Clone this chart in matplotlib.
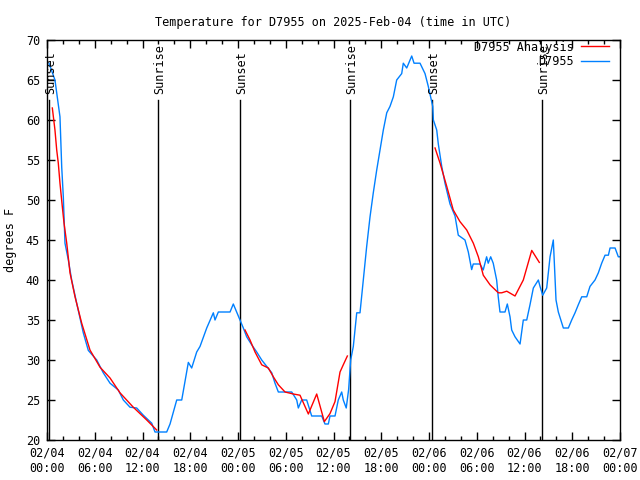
import matplotlib
matplotlib.use("Agg")
import matplotlib.pyplot as plt
import numpy as np

plt.rcParams['font.family'] = ['DejaVu Sans Mono']

# hours since 2025-02-04 00:00 UTC
obs_hours = [0.25, 1.0, 1.63, 1.85, 2.05, 2.26, 2.68, 3.1, 3.73, 4.56, 5.19, 6.25, 7.07, 7.92, 8.96,
             9.59, 10.43, 11.27, 12.1, 13.16, 13.57, 15.04, 15.46, 16.3, 16.93, 17.76, 18.18, 18.81,
             19.23, 20.07, 20.9, 21.11, 21.53, 23.0, 23.41, 24.25, 24.67, 25.09, 25.72, 26.35, 26.98,
             27.61, 28.24, 28.65, 29.07, 30.75, 31.38, 31.58, 32.0, 32.63, 33.26, 34.52, 34.93, 35.35,
             35.56, 36.19, 36.6, 37.03, 37.23, 37.6, 37.9, 38.16, 38.49, 38.92, 39.33, 39.75, 40.17,
             40.59, 41.0, 41.43, 41.85, 42.26, 42.69, 43.1, 43.52, 43.94, 44.57, 44.77, 45.2, 45.61,
             45.83, 46.12, 46.87, 47.5, 47.91, 48.47, 48.55, 48.97, 49.17, 49.6, 50.01, 50.64, 51.27,
             51.68, 52.52, 52.94, 53.36, 53.56, 54.4, 54.81, 55.24, 55.44, 55.75, 56.07, 56.5, 56.7,
             56.92, 57.55, 57.84, 58.18, 58.39, 58.81, 59.44, 59.85, 60.28, 60.69, 61.11, 61.74,
             61.95, 62.29, 62.79, 63.21, 63.62, 63.96, 64.25, 64.88, 65.51, 65.93, 66.35, 66.76,
             67.19, 67.82, 68.23, 68.86, 69.28, 69.7, 70.12, 70.54, 70.75, 71.38, 71.79, 72.0]
obs_temps = [67.1, 65, 60.4, 54.1, 50.4, 44.6, 42.5, 40, 37.1, 33.4, 31.2, 30, 28.4, 27.1, 26.25,
             25, 24.1, 24, 23.1, 22.1, 21, 21, 22, 25, 25, 29.7, 29, 31,
             31.7, 34, 35.9, 35, 36, 36, 37, 35, 34, 32.9, 31.9, 31, 30,
             29.2, 28.4, 27.1, 26, 26, 25, 24, 25, 25, 23, 23, 22, 22,
             23, 23, 25, 26, 25, 24, 26.3, 30, 31.7, 35.9, 35.9, 40, 44.2,
             47.9, 50.9, 53.75, 56.25, 58.75, 60.9, 61.7, 62.9, 65, 65.8, 67.1, 66.5, 67.5,
             68, 67.1, 67.1, 65.8, 64.2, 61.7, 60, 58.75, 57, 54.2, 52.1, 49.5, 48,
             45.6, 45, 43.5, 41.3, 42, 42, 41.25, 42.9, 42.1, 42.9, 42.1, 40, 37.9,
             36, 36, 37, 35.4, 33.75, 32.9, 32, 35, 35, 36.9, 39, 40,
             39.2, 38.1, 39, 42.9, 45, 37.5, 36, 34, 34, 35, 35.9, 36.9,
             37.9, 37.9, 39.2, 40, 40.9, 42.1, 43.1, 43.1, 44, 44, 42.9, 42.9]

ana_hours = [0.67, 1.0, 1.22, 1.42, 1.63, 1.92, 2.14, 2.48, 2.89, 3.52, 4.36, 5.4, 6.66, 7.92, 9.17,
             10.84, 12.53, 13.78, np.nan,
             24.88, 25.51, 26.14, 26.98, 27.81, 28.44, 29.07, 29.91, 30.95, 31.79, 32.84, 33.89,
             34.85, 35.56, 36.19, 36.82, 37.23, 37.74, np.nan,
             48.76, 49.39, 50.23, 51.05, 51.89, 52.74, 53.57, 54.2, 54.82, 55.67, 56.71, 57.14,
             57.77, 58.81, 59.85, 60.91, 61.86]
ana_temps = [61.5, 58.75, 56.25, 54.6, 52.1, 49.2, 47.1, 44.6, 40.9, 37.9, 34.6, 31.25, 29.1, 27.75, 25.9,
             24.1, 22.5, 21.25, np.nan,
             33.75, 32.5, 31, 29.4, 29, 27.9, 26.9, 26, 25.75, 25.6, 23.25, 25.75,
             22.3, 23.3, 24.8, 28.5, 29.4, 30.5, np.nan,
             56.5, 54.6, 51.7, 48.75, 47.3, 46.25, 44.6, 42.9, 40.6, 39.4, 38.4, 38.4,
             38.6, 38, 40, 43.7, 42.2]

event_hours = [0.25, 13.95, 24.25, 38.07, 48.38, 62.2]
event_labels = ["Sunset", "Sunrise", "Sunset", "Sunrise", "Sunset", "Sunrise"]

xtick_hours = [0, 6, 12, 18, 24, 30, 36, 42, 48, 54, 60, 66, 72]
xtick_labels = ["02/04\n00:00", "02/04\n06:00", "02/04\n12:00", "02/04\n18:00",
                "02/05\n00:00", "02/05\n06:00", "02/05\n12:00", "02/05\n18:00",
                "02/06\n00:00", "02/06\n06:00", "02/06\n12:00", "02/06\n18:00",
                "02/07\n00:00"]
ytick_vals = [20, 25, 30, 35, 40, 45, 50, 55, 60, 65, 70]

fig = plt.figure(figsize=(6.4, 4.8), dpi=100)
ax = fig.add_axes([47/640, 1-440/480, 573/640, 400/480])
fs = 8.5

for h, lab in zip(event_hours, event_labels):
    ax.plot([h, h], [20, 62.5], color='black', lw=1.0, zorder=1)
    ax.text(h + 0.2, 63.2, lab, rotation=90, ha='center', va='bottom', fontsize=fs)

ax.plot(ana_hours, ana_temps, color='#ff0000', lw=1.0, label='D7955 Analysis', zorder=3)
ax.plot(obs_hours, obs_temps, color='#0080ff', lw=1.0, label='D7955', zorder=2)

ax.set_xlim(0, 72)
ax.set_ylim(20, 70)
ax.set_xticks(xtick_hours)
ax.set_xticklabels(xtick_labels, fontsize=fs)
ax.set_xticks(np.arange(0, 73, 2), minor=True)
ax.set_yticks(ytick_vals)
ax.set_yticklabels([str(v) for v in ytick_vals], fontsize=fs)
ax.tick_params(axis='both', which='major', direction='in', length=6, width=1,
               top=True, right=True, pad=5)
ax.tick_params(axis='both', which='minor', direction='in', length=3, width=1,
               top=True, right=True)
for s in ax.spines.values():
    s.set_linewidth(1.0)

ax.set_ylabel("degrees F", fontsize=fs, labelpad=6)
ax.set_title("Temperature for D7955 on 2025-Feb-04 (time in UTC)", fontsize=fs, pad=10)

leg = ax.legend(loc='upper right', bbox_to_anchor=(1 - 7/573, 1 + 3/400), frameon=False,
                markerfirst=False, fontsize=fs,
                handlelength=2.4, borderaxespad=0.0, labelspacing=0.1, handletextpad=0.6,
                borderpad=0.3)
for t in leg.get_texts():
    t.set_ha('right')

fig.savefig("out.png", dpi=100)
